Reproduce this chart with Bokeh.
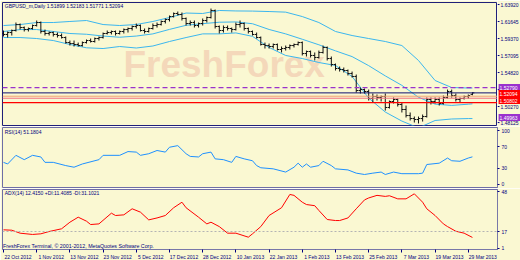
from bokeh.plotting import figure
from bokeh.layouts import column, row
from bokeh.models import FixedTicker, Span, Range1d, ColumnDataSource
from bokeh.core.properties import value
from bokeh.transform import dodge
from bokeh.embed import file_html
from bokeh.resources import INLINE

# ---------------- data ----------------
tick_idx = [0, 8, 16, 24, 32, 40, 48, 56, 64, 72, 80, 88, 96, 104, 112]
date_labels = ["22 Oct 2012", "1 Nov 2012", "13 Nov 2012", "23 Nov 2012", "5 Dec 2012",
               "17 Dec 2012", "28 Dec 2012", "10 Jan 2013", "22 Jan 2013", "1 Feb 2013",
               "13 Feb 2013", "25 Feb 2013", "7 Mar 2013", "19 Mar 2013", "29 Mar 2013"]

opens = [1.6004, 1.5991, 1.6017, 1.6044, 1.6124, 1.6084, 1.6057, 1.6071, 1.6111, 1.6151,
         1.6031, 1.6004, 1.6017, 1.5991, 1.5977, 1.5950, 1.5883, 1.5870, 1.5857, 1.5843,
         1.5883, 1.5910, 1.5897, 1.5937, 1.5950, 1.6004, 1.6017, 1.6031, 1.6004, 1.6031,
         1.6057, 1.6071, 1.6098, 1.6111, 1.6044, 1.6031, 1.6071, 1.6111, 1.6124, 1.6165,
         1.6191, 1.6231, 1.6272, 1.6258, 1.6205, 1.6138, 1.6151, 1.6111, 1.6138, 1.6178,
         1.6218, 1.6312, 1.6098, 1.6044, 1.6084, 1.6071, 1.6057, 1.6124, 1.6138, 1.6071,
         1.6031, 1.5991, 1.5950, 1.5857, 1.5843, 1.5830, 1.5857, 1.5790, 1.5803, 1.5817,
         1.5843, 1.5857, 1.5883, 1.5736, 1.5763, 1.5710, 1.5683, 1.5750, 1.5817, 1.5669,
         1.5589, 1.5536, 1.5522, 1.5509, 1.5469, 1.5429, 1.5241, 1.5254, 1.5228, 1.5134,
         1.5161, 1.5147, 1.5161, 1.5014, 1.5094, 1.5121, 1.5054, 1.4987, 1.4906, 1.4866,
         1.4853, 1.4866, 1.4893, 1.5121, 1.5094, 1.5121, 1.5067, 1.5147, 1.5228, 1.5174,
         1.5121, 1.5134, 1.5161, 1.51899]
highs = [1.6044, 1.6031, 1.6057, 1.6151, 1.6138, 1.6098, 1.6084, 1.6124, 1.6178, 1.6165,
         1.6057, 1.6031, 1.6031, 1.6017, 1.6004, 1.5964, 1.5910, 1.5910, 1.5883, 1.5897,
         1.5924, 1.5937, 1.5950, 1.5964, 1.6017, 1.6044, 1.6044, 1.6044, 1.6044, 1.6071,
         1.6084, 1.6111, 1.6138, 1.6124, 1.6071, 1.6084, 1.6138, 1.6151, 1.6178, 1.6205,
         1.6245, 1.6285, 1.6298, 1.6285, 1.6218, 1.6178, 1.6178, 1.6151, 1.6205, 1.6231,
         1.6338, 1.6325, 1.6111, 1.6111, 1.6111, 1.6084, 1.6151, 1.6178, 1.6151, 1.6084,
         1.6044, 1.6017, 1.5964, 1.5883, 1.5870, 1.5870, 1.5870, 1.5830, 1.5843, 1.5857,
         1.5870, 1.5897, 1.5897, 1.5776, 1.5776, 1.5750, 1.5776, 1.5843, 1.5830, 1.5696,
         1.5602, 1.5562, 1.5549, 1.5522, 1.5495, 1.5455, 1.5281, 1.5268, 1.5254, 1.5201,
         1.5188, 1.5174, 1.5201, 1.5107, 1.5147, 1.5134, 1.5081, 1.5040, 1.4947, 1.4893,
         1.4893, 1.4920, 1.5147, 1.5147, 1.5147, 1.5147, 1.5174, 1.5254, 1.5254, 1.5201,
         1.5147, 1.5174, 1.5188, 1.52183]
lows = [1.5964, 1.5950, 1.5977, 1.6031, 1.6057, 1.6031, 1.6031, 1.6057, 1.6098, 1.6004,
        1.5977, 1.5977, 1.5964, 1.5950, 1.5937, 1.5870, 1.5843, 1.5830, 1.5830, 1.5830,
        1.5870, 1.5883, 1.5883, 1.5910, 1.5937, 1.5991, 1.5991, 1.5977, 1.5991, 1.6004,
        1.6017, 1.6044, 1.6071, 1.6031, 1.6004, 1.6017, 1.6057, 1.6084, 1.6111, 1.6138,
        1.6165, 1.6218, 1.6245, 1.6178, 1.6111, 1.6111, 1.6084, 1.6084, 1.6111, 1.6151,
        1.6205, 1.6071, 1.6004, 1.6017, 1.6044, 1.6017, 1.6044, 1.6084, 1.6044, 1.6004,
        1.5977, 1.5937, 1.5843, 1.5803, 1.5803, 1.5803, 1.5776, 1.5750, 1.5776, 1.5790,
        1.5817, 1.5843, 1.5710, 1.5696, 1.5683, 1.5643, 1.5669, 1.5736, 1.5643, 1.5562,
        1.5509, 1.5495, 1.5482, 1.5442, 1.5415, 1.5214, 1.5201, 1.5201, 1.5107, 1.5081,
        1.5107, 1.5094, 1.4973, 1.5000, 1.5067, 1.5027, 1.4947, 1.4880, 1.4840, 1.4813,
        1.4800, 1.4826, 1.4880, 1.5054, 1.5067, 1.5040, 1.5054, 1.5134, 1.5147, 1.5094,
        1.5081, 1.5121, 1.5134, 1.51771]
closes = [1.5991, 1.6017, 1.6044, 1.6124, 1.6084, 1.6057, 1.6071, 1.6111, 1.6151, 1.6031,
          1.6004, 1.6017, 1.5991, 1.5977, 1.5950, 1.5883, 1.5870, 1.5857, 1.5843, 1.5883,
          1.5910, 1.5897, 1.5937, 1.5950, 1.6004, 1.6017, 1.6031, 1.6004, 1.6031, 1.6057,
          1.6071, 1.6098, 1.6111, 1.6044, 1.6031, 1.6071, 1.6111, 1.6124, 1.6165, 1.6191,
          1.6231, 1.6272, 1.6258, 1.6205, 1.6138, 1.6151, 1.6111, 1.6138, 1.6178, 1.6218,
          1.6312, 1.6098, 1.6044, 1.6084, 1.6071, 1.6057, 1.6124, 1.6138, 1.6071, 1.6031,
          1.5991, 1.5950, 1.5857, 1.5843, 1.5830, 1.5857, 1.5790, 1.5803, 1.5817, 1.5843,
          1.5857, 1.5883, 1.5736, 1.5763, 1.5710, 1.5683, 1.5750, 1.5817, 1.5669, 1.5589,
          1.5536, 1.5522, 1.5509, 1.5469, 1.5429, 1.5241, 1.5254, 1.5228, 1.5134, 1.5161,
          1.5147, 1.5161, 1.5014, 1.5094, 1.5121, 1.5054, 1.4987, 1.4906, 1.4866, 1.4853,
          1.4866, 1.4893, 1.5121, 1.5094, 1.5121, 1.5067, 1.5147, 1.5228, 1.5174, 1.5121,
          1.5134, 1.5161, 1.5174, 1.52094]
bar_idx = list(range(len(closes)))

band_idx = [0, 4, 8, 12, 16, 20, 24, 28, 32, 36, 40, 44, 48, 52, 56, 60, 64, 68, 72, 76,
            80, 84, 88, 92, 96, 100, 104, 108, 112, 113]
band_upper = [1.6111, 1.6124, 1.6151, 1.6151, 1.6165, 1.6178, 1.6124, 1.6111, 1.6124, 1.6165,
              1.6218, 1.6278, 1.6272, 1.6312, 1.6306, 1.6304, 1.6298, 1.6290, 1.6231, 1.6151,
              1.6031, 1.5977, 1.5937, 1.5897, 1.5843, 1.5643, 1.5375, 1.5281, 1.5275, 1.5275]
band_middle = [1.6031, 1.6057, 1.6057, 1.6031, 1.6004, 1.5994, 1.5970, 1.5954, 1.5970, 1.5999,
               1.6059, 1.6114, 1.6136, 1.6155, 1.6159, 1.6135, 1.6058, 1.5999, 1.5927, 1.5853,
               1.5772, 1.5695, 1.5574, 1.5437, 1.5310, 1.5151, 1.5059, 1.5042, 1.5058, 1.5063]
band_lower = [1.5950, 1.5950, 1.5937, 1.5910, 1.5857, 1.5813, 1.5803, 1.5830, 1.5810, 1.5837,
              1.5897, 1.5950, 1.5999, 1.5999, 1.6012, 1.5966, 1.5817, 1.5710, 1.5669, 1.5616,
              1.5576, 1.5429, 1.5140, 1.4953, 1.4832, 1.4741, 1.4840, 1.4860, 1.4866, 1.4866]

rsi_idx = [0, 1, 3, 5, 7, 9, 10, 12, 15, 17, 19, 23, 24, 28, 30, 32, 33, 35, 37, 39,
           40, 42, 44, 45, 47, 48, 50, 51, 53, 55, 56, 58, 60, 61, 62, 65, 68, 70, 71, 72,
           73, 74, 76, 77, 79, 80, 83, 85, 87, 89, 91, 92, 94, 96, 100, 101, 102, 105, 107, 108,
           110, 112, 113]
rsi_val = [41, 38, 54, 46, 54, 51, 41, 41, 35, 32, 38, 46, 54, 54, 61, 60, 54, 57, 63, 60,
           69, 72, 57, 52, 51, 57, 60, 47.5, 46, 41, 52, 47.5, 44, 35, 31, 29, 23, 32, 39.5, 32,
           38, 32, 35, 43, 35, 29, 27, 21, 18.5, 21, 23, 18.5, 23, 20, 20, 21, 37, 39.5, 49, 44,
           43, 49, 51.2]

adx_idx = [0, 2, 4, 7, 9, 11, 14, 16, 18, 20, 21, 23, 26, 27, 29, 31, 33, 35, 37, 39,
           41, 43, 44, 47, 49, 50, 52, 54, 56, 59, 60, 62, 64, 67, 69, 70, 72, 73, 75, 76,
           78, 80, 81, 83, 85, 87, 88, 90, 92, 93, 95, 97, 99, 101, 102, 104, 106, 107, 109, 111,
           113]
adx_val = [18.3, 18, 15.7, 14.7, 15.2, 17, 19.1, 24.2, 28.1, 25, 22.4, 22.9, 31.2, 29.4, 29.9,
           34.6, 32, 26, 27.5, 29.4, 35.4, 39.7, 35.4, 28.1, 22.9, 24.2, 20.8, 15.7, 15.7, 12.6,
           15.2, 20.8, 29.4, 35.4, 45.7, 45, 39.7, 37.9, 37, 33.3, 26.3, 25.5, 25.5, 27.5, 34.6,
           41.5, 43, 45, 44.2, 44.7, 42.3, 42.3, 46.2, 39.7, 34.6, 29.4, 22.9, 20.8, 17.2, 15.7,
           12.4]

price_ticks = [1.63920, 1.61645, 1.59370, 1.57095, 1.54820, 1.52545, 1.50270, 1.48125]
price_tick_labels = ["1.63920", "1.61645", "1.59370", "1.57095", "1.54820", "1.52545", "1.50270", "1.48125"]
rsi_ticks = [100, 70, 30, 0]
adx_ticks = [48, 17]
adx_level = 17

level_purple = 1.52790
level_bid = 1.52094
level_orange = 1.5165
level_pink = 1.5138
level_red = 1.50802

box_texts = ["1.52790", "1.52094", "1.50802", "1.49963"]
box_prices = [1.5281, 1.5201, 1.5107, 1.4880]
box_colors = ["#9A32CD", "#FF0000", "#FF0000", "#9A32CD"]

title_text = "GBPUSD_m,Daily 1.51899 1.52183 1.51771 1.52094"
rsi_text = "RSI(14) 51.1804"
adx_text = "ADX(14) 12.4150 +DI:11.4085 -DI:31.1021"
copyright_text = "FreshForex Terminal, \u00a9 2001-2012, MetaQuotes Software Corp."
watermark = "FreshForex"

# ---------------- style ----------------
BG = "#FAF8D2"
NAVY = "#000080"
FONT = "Liberation Sans"
FRAME_W = 495
x_range = Range1d(-0.24, 119.04)
price_range = Range1d(1.4773, 1.6419)


def style_yaxis(p, ticks, overrides=None):
    ax = p.yaxis[0]
    ax.ticker = FixedTicker(ticks=ticks)
    if overrides:
        ax.major_label_overrides = overrides
    ax.minor_tick_line_color = None
    ax.major_tick_out = 2
    ax.major_tick_in = 0
    ax.major_tick_line_color = NAVY
    ax.major_label_standoff = 2
    ax.major_label_text_font = FONT
    ax.major_label_text_font_size = "5px"
    ax.major_label_text_color = NAVY
    ax.axis_line_color = "#7878A8"


def make_fig(frame_h, top, bottom, yr, xaxis=False, yaxis=True, right=23):
    p = figure(frame_width=FRAME_W, frame_height=frame_h, x_range=x_range, y_range=yr,
               output_backend="svg", toolbar_location=None,
               y_axis_location="right" if yaxis else None,
               x_axis_location="below" if xaxis else None,
               min_border_left=2, min_border_right=right, min_border_top=top,
               min_border_bottom=bottom, background_fill_color=BG, border_fill_color=BG)
    p.grid.visible = False
    p.outline_line_color = "#6E6EA6"
    return p


# ---------------- price panel ----------------
pp = make_fig(123, 2, 1, price_range, yaxis=False, right=0)
pp.outline_line_color = "#20207A"

pp.text(x=[28.9], y=[1.5589], text=[watermark], text_font=value(FONT), text_font_style="bold",
        text_font_size="37px", text_color="#F4D8BA", text_baseline="alphabetic", text_align="left")

for loc, col, dash, w in [(level_purple, "#9932CC", "5 3", 1.2), (level_bid, "#101070", "solid", 1),
                          (level_orange, "#F0A070", "solid", 1), (level_pink, "#F07080", "solid", 1),
                          (level_red, "#FF0000", "solid", 1.3)]:
    pp.add_layout(Span(location=loc, dimension="width", line_color=col, line_dash=dash, line_width=w))

for band in (band_upper, band_middle, band_lower):
    pp.line(band_idx, band, line_color="#3BB6EE", line_width=1)

src = ColumnDataSource(dict(x=bar_idx, o=opens, h=highs, l=lows, c=closes))
pp.segment(x0="x", y0="l", x1="x", y1="h", source=src, line_color="#111111", line_width=1)
pp.segment(x0=dodge("x", -0.45), y0="o", x1="x", y1="o", source=src, line_color="#111111", line_width=1)
pp.segment(x0="x", y0="c", x1=dodge("x", 0.45), y1="c", source=src, line_color="#111111", line_width=1)

pp.text(x=[0.3], y=[1.6408], text=[title_text], text_font=value(FONT), text_font_size="5px",
        text_color=NAVY, text_baseline="top")

# price scale strip (axis ticks, labels and line-price boxes)
side = figure(frame_width=23, frame_height=123, x_range=Range1d(0, 23), y_range=price_range,
              output_backend="svg", toolbar_location=None, x_axis_location=None,
              y_axis_location=None, min_border_left=0, min_border_right=0, min_border_top=2,
              min_border_bottom=1, background_fill_color=BG, border_fill_color=BG)
side.grid.visible = False
side.outline_line_color = None
side.segment(x0=0, y0=price_ticks, x1=2, y1=price_ticks, line_color=NAVY, line_width=1)
side.text(x=3, y=price_ticks, text=price_tick_labels, text_font=value(FONT), text_font_size="5px",
          text_color=NAVY, text_baseline="middle", text_align="left")
box_src = ColumnDataSource(dict(y=box_prices, t=box_texts, c=box_colors))
side.rect(x=11.9, y="y", width=21.6, height=7, height_units="screen", fill_color="c",
          line_color=None, source=box_src)
side.text(x=2, y="y", text="t", text_font=value(FONT), text_font_size="5px", text_color="white",
          text_baseline="middle", text_align="left", source=box_src)

# ---------------- RSI panel ----------------
pr = make_fig(60, 1, 1, Range1d(-5.6, 105.6))
style_yaxis(pr, rsi_ticks)
pr.line(rsi_idx, rsi_val, line_color="#1E90FF", line_width=1)
pr.text(x=[0.3], y=[103.5], text=[rsi_text], text_font=value(FONT), text_font_size="5px",
        text_color=NAVY, text_baseline="top")

# ---------------- ADX panel ----------------
pa = make_fig(60, 1, 11, Range1d(3.05, 49.55), xaxis=True)
style_yaxis(pa, adx_ticks + [3.9], {3.9: "1"})
pa.add_layout(Span(location=adx_level, dimension="width", line_color="#B4B4B4",
                   line_dash="2 2", line_width=1))
pa.line(adx_idx, adx_val, line_color="#FF0000", line_width=1)
pa.text(x=[0.3], y=[48.9], text=[adx_text], text_font=value(FONT), text_font_size="5px",
        text_color=NAVY, text_baseline="top")
pa.text(x=[-0.1], y=[3.4], text=[copyright_text], text_font=value(FONT), text_font_size="5.3px",
        text_color=NAVY, text_baseline="bottom")

xa = pa.xaxis[0]
label_pos = [t + 3.5 for t in tick_idx]
xa.ticker = FixedTicker(ticks=label_pos, minor_ticks=tick_idx)
xa.major_label_overrides = dict(zip(label_pos, date_labels))
xa.major_tick_out = 0
xa.major_tick_in = 0
xa.minor_tick_out = 3
xa.minor_tick_in = 0
xa.minor_tick_line_color = NAVY
xa.major_label_standoff = 1
xa.major_label_text_font = FONT
xa.major_label_text_font_size = "5px"
xa.major_label_text_color = NAVY
xa.axis_line_color = "#7878A8"

layout = column(row(pp, side, spacing=0), pr, pa, spacing=0)
open("out.html", "w").write(file_html(layout, INLINE))
